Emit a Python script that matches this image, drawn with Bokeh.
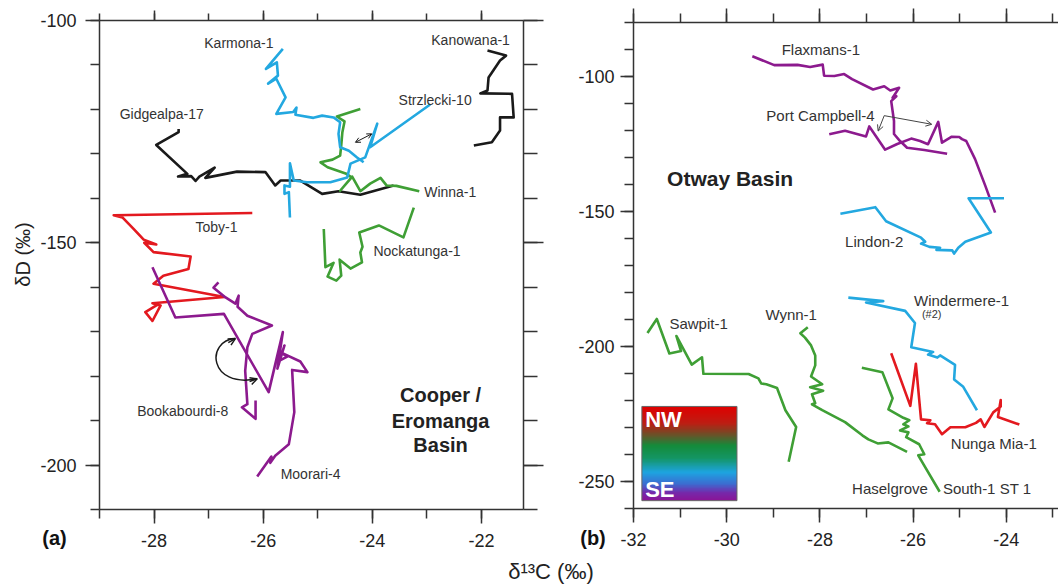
import numpy as np
from bokeh.plotting import figure
from bokeh.models import (Range1d, LinearAxis, SingleIntervalTicker, Label, Arrow, GridBox,
                          OpenHead, ColumnDataSource, PrintfTickFormatter)
from bokeh.embed import file_html
from bokeh.resources import INLINE
from bokeh.core.properties import value

FONT = "Liberation Sans"

# ---------------- Panel (a): Cooper / Eromanga Basin ----------------
karmona_x = [-25.64, -25.95, -25.75, -25.73, -25.91, -25.76, -25.59, -25.76, -25.45, -25.39,
             -25.41, -25.08, -24.92, -24.71, -24.59, -24.62, -24.59, -24.43, -24.28, -24.16]
karmona_y = [-106.4, -110.9, -109.4, -112.4, -114.2, -113.1, -117.3, -121.0, -120.6, -119.6,
             -121.2, -121.9, -121.4, -121.8, -122.9, -125.5, -128.5, -129.3, -130.8, -131.9]
strz_x = [-22.94, -24.04, -23.91, -24.13, -24.40, -24.46, -24.77, -25.20, -25.44, -25.51,
          -25.51, -25.61, -25.61, -25.53, -25.51]
strz_y = [-118.9, -128.5, -123.2, -130.8, -132.2, -135.3, -136.4, -136.4, -136.0, -132.1,
          -137.4, -137.1, -139.0, -138.6, -144.3]
gidg_x = [-27.55, -27.55, -27.96, -27.39, -27.56, -27.32, -27.24, -27.17, -26.89, -27.06,
          -26.48, -25.96, -25.78, -25.68, -25.32, -24.92, -24.62, -24.22, -23.61]
gidg_y = [-124.4, -125.1, -128.0, -134.5, -135.1, -135.0, -136.1, -135.1, -133.1, -135.4,
          -134.0, -134.1, -137.1, -136.0, -136.0, -139.0, -138.4, -139.2, -137.1]
kan_x = [-21.89, -21.55, -21.66, -21.87, -21.89, -22.02, -21.44, -21.41, -21.66, -21.66, -21.81, -22.14]
kan_y = [-106.75, -107.9, -109.0, -112.8, -115.75, -116.4, -116.5, -121.8, -121.8, -124.75, -127.4, -128.1]
winna_x = [-24.22, -24.65, -24.51, -24.55, -24.57, -24.59, -24.73, -24.95, -24.82, -24.49,
           -24.38, -24.59, -24.37, -24.22, -24.04, -23.85, -23.74, -23.56, -23.14]
winna_y = [-119.9, -121.6, -122.7, -125.2, -128.1, -130.4, -131.3, -131.9, -133.0, -134.4,
           -135.3, -138.3, -135.1, -138.4, -136.7, -135.4, -137.1, -137.2, -138.4]
nock_x = [-24.89, -24.86, -24.71, -24.82, -24.66, -24.57, -24.60, -24.40, -24.19, -24.22,
          -24.18, -24.24, -23.88, -23.43, -23.24]
nock_y = [-146.9, -155.5, -154.5, -157.6, -158.5, -157.4, -153.8, -155.8, -154.4, -152.2,
          -150.9, -147.7, -146.1, -148.8, -142.1]
toby_x = [-26.20, -28.74, -28.58, -28.38, -28.19, -27.96, -28.18, -28.01, -27.33, -27.37,
          -27.83, -28.01, -26.71, -28.03, -27.88, -28.03, -28.16, -27.92]
toby_y = [-143.3, -143.8, -144.3, -146.8, -149.3, -150.4, -150.0, -152.1, -153.1, -155.9,
          -157.4, -159.2, -162.2, -163.6, -164.1, -167.6, -165.6, -163.8]
moor_x = [-28.03, -27.61, -26.72, -25.90, -25.64, -25.74, -25.61, -25.70, -25.56, -25.67,
          -25.32, -25.19, -25.47, -25.43, -25.53, -25.78, -25.87, -25.85, -26.11]
moor_y = [-155.5, -166.8, -166.0, -183.6, -170.1, -178.3, -173.1, -176.5, -175.6, -174.7,
          -176.7, -179.1, -178.6, -188.1, -195.3, -197.9, -199.5, -198.1, -202.6]
book_x = [-26.82, -26.91, -26.69, -26.51, -26.45, -26.47, -26.29, -25.84, -26.20, -26.29,
          -26.33, -26.29, -26.39, -26.14, -26.14]
book_y = [-158.9, -160.1, -162.3, -163.7, -161.9, -164.4, -166.4, -168.6, -170.5, -173.5,
          -178.8, -186.3, -187.0, -189.6, -185.5]

# ---------------- Panel (b): Otway Basin ----------------
flax_x = [-29.45, -28.98, -28.48, -28.21, -27.94, -27.91, -27.69, -27.48, -27.31, -26.86, -26.62,
          -26.49, -26.30, -26.44, -26.36, -26.47, -26.41, -26.41, -26.28, -26.13, -25.76, -25.27]
flax_y = [-92.5, -95.8, -95.7, -96.5, -95.6, -99.7, -99.8, -99.1, -101.0, -104.8, -103.6,
          -105.2, -104.2, -107.9, -107.3, -109.1, -116.5, -121.3, -123.9, -126.4, -127.2, -128.6]
portc_x = [-27.80, -27.46, -27.01, -26.94, -26.60, -26.34, -26.04, -25.85, -25.68, -25.46,
           -25.38, -25.17, -25.01, -24.95, -24.86, -24.67, -24.45, -24.24]
portc_y = [-121.4, -120.1, -122.2, -118.5, -127.1, -125.0, -123.0, -123.9, -125.1, -116.8,
           -124.5, -122.3, -122.4, -123.2, -123.9, -130.6, -140.5, -150.4]
lind_x = [-27.56, -26.81, -26.58, -25.83, -25.74, -25.83, -25.65, -25.42, -25.50, -25.16,
          -25.12, -25.03, -24.88, -24.33, -24.81, -24.05]
lind_y = [-150.8, -148.4, -153.6, -159.7, -161.2, -161.9, -163.1, -163.4, -164.2, -164.4,
          -165.6, -163.4, -161.2, -157.8, -145.1, -145.1]
wind_x = [-27.39, -26.64, -27.01, -26.17, -25.96, -26.04, -25.57, -25.68, -25.48, -25.42,
          -25.10, -25.12, -24.93, -24.63]
wind_y = [-181.9, -183.2, -183.7, -186.8, -191.3, -200.3, -202.0, -203.0, -204.1, -203.3,
          -206.8, -212.2, -214.8, -223.6]
nunga_x = [-26.47, -26.06, -25.94, -25.83, -25.63, -25.70, -25.53, -25.38, -25.20, -24.88,
           -24.65, -24.55, -24.47, -24.28, -24.12, -24.12, -24.18, -23.72]
nunga_y = [-202.5, -222.0, -206.4, -227.0, -227.3, -228.4, -228.8, -232.5, -229.9, -229.9,
           -228.3, -227.0, -229.8, -224.4, -222.2, -219.8, -226.1, -228.9]
sawp_x = [-31.70, -31.50, -31.23, -30.98, -31.08, -30.75, -30.53, -30.50, -29.53, -29.32,
          -29.26, -29.15, -28.92, -28.74, -28.51, -28.67]
sawp_y = [-195.0, -189.8, -202.6, -201.7, -196.1, -206.7, -204.0, -210.1, -210.2, -211.8,
          -213.7, -214.0, -215.4, -223.6, -229.8, -242.7]
wynn_x = [-28.26, -28.42, -28.32, -28.19, -28.10, -28.10, -28.19, -27.95, -28.21, -27.93,
          -28.17, -28.10, -28.17, -27.95, -27.46, -27.09, -26.96, -26.76, -26.53, -26.13]
wynn_y = [-192.9, -195.1, -196.7, -199.6, -203.3, -207.0, -211.1, -214.0, -215.1, -216.4,
          -217.7, -221.0, -221.4, -223.6, -228.0, -232.9, -234.4, -235.9, -235.5, -239.0]
hasel_x = [-27.10, -26.66, -26.44, -26.53, -26.21, -26.08, -26.21, -26.10, -26.28, -26.10,
           -26.15, -25.87, -25.76, -25.89, -25.43]
hasel_y = [-207.9, -209.5, -219.2, -223.3, -226.4, -227.3, -228.8, -229.6, -231.1, -231.8,
           -233.6, -236.2, -239.9, -240.3, -253.8]

# labels
labels_a = ["Karmona-1", "Kanowana-1", "Gidgealpa-17", "Strzlecki-10", "Winna-1", "Toby-1",
            "Nockatunga-1", "Bookabourdi-8", "Moorari-4"]
labels_a_x = [-27.08, -22.92, -28.63, -23.52, -23.05, -27.24, -23.98, -28.31, -25.68]
labels_a_y = [-105.1, -104.3, -121.0, -117.9, -138.5, -146.4, -151.9, -187.8, -202.0]
labels_b = ["Flaxmans-1", "Port Campbell-4", "Lindon-2", "Windermere-1", "Sawpit-1", "Wynn-1",
            "Nunga Mia-1", "Haselgrove", "South-1 ST 1"]
labels_b_x = [-28.82, -29.15, -27.46, -25.98, -31.23, -29.17, -25.19, -27.31, -25.36]
labels_b_y = [-89.9, -114.5, -161.2, -183.0, -191.5, -188.2, -235.8, -252.5, -252.5]

RED = "#e3191f"
PURPLE = "#8c1a8e"
BLUE = "#23a8e0"
GREEN = "#3f9f35"
BLACK = "#1a1a1a"
AXC = "#333333"
TXT = "#333333"


def make_fig(w, h, xr, yr, bl, br, bt, bb):
    p = figure(width=w, height=h, x_range=Range1d(*xr), y_range=Range1d(*yr),
               output_backend="svg", toolbar_location=None,
               min_border_left=bl, min_border_right=br, min_border_top=bt, min_border_bottom=bb)
    p.frame_align = False
    p.xgrid.visible = False
    p.ygrid.visible = False
    p.outline_line_color = None
    p.background_fill_color = "white"
    p.border_fill_color = "white"
    return p


def style_axis(ax, ticker, labels, tick_out, minor_out, standoff=6):
    ax.ticker = ticker
    ax.formatter = PrintfTickFormatter(format="%d")
    ax.major_tick_out = tick_out
    ax.major_tick_in = 0
    ax.minor_tick_out = minor_out
    ax.minor_tick_in = 0
    ax.axis_line_color = AXC
    ax.axis_line_width = 1.5
    ax.major_tick_line_color = AXC
    ax.major_tick_line_width = 1.5
    ax.minor_tick_line_color = AXC
    ax.minor_tick_line_width = 1.5
    if labels:
        ax.major_label_text_font = FONT
        ax.major_label_text_font_size = "18px"
        ax.major_label_text_color = "#222222"
        ax.major_label_standoff = standoff
    else:
        ax.major_label_text_font_size = "0px"
        ax.major_label_text_color = None
        ax.major_label_standoff = 0


def xt():
    return SingleIntervalTicker(interval=2, num_minor_ticks=2)


def yt():
    return SingleIntervalTicker(interval=50, num_minor_ticks=5)


def bare_fig(w, h, xr, yr):
    f = figure(width=w, height=h, x_range=Range1d(*xr), y_range=Range1d(*yr),
               output_backend="svg", toolbar_location=None, min_border=0,
               x_axis_location=None, y_axis_location=None)
    f.frame_align = False
    f.xgrid.visible = False
    f.ygrid.visible = False
    f.outline_line_color = None
    return f


H = 556
# ---- panel (a)
p1 = make_fig(544, H, (-29, -21.23), (-210, -100), 99, 21, 20, 47)
style_axis(p1.xaxis[0], xt(), True, 14, 9, 10)
style_axis(p1.yaxis[0], yt(), True, 14, 9, 9)
top1 = LinearAxis()
right1 = LinearAxis()
p1.add_layout(top1, "above")
p1.add_layout(right1, "right")
style_axis(top1, xt(), False, 10, 7)
style_axis(right1, yt(), False, 20, 14)

LW = 2.6
for xs, ys, c in [(gidg_x, gidg_y, BLACK), (kan_x, kan_y, BLACK),
                  (winna_x, winna_y, GREEN), (nock_x, nock_y, GREEN),
                  (karmona_x, karmona_y, BLUE), (strz_x, strz_y, BLUE),
                  (toby_x, toby_y, RED), (moor_x, moor_y, PURPLE), (book_x, book_y, PURPLE)]:
    p1.line(xs, ys, line_color=c, line_width=LW, line_join="round")

src_a = ColumnDataSource(dict(x=labels_a_x, y=labels_a_y, t=labels_a))
p1.text(x="x", y="y", text="t", source=src_a, text_font=value(FONT), text_font_size="14px",
        text_color=TXT, text_baseline="middle", text_align="left")
for i, s in enumerate(["Cooper /", "Eromanga", "Basin"]):
    p1.add_layout(Label(x=-22.75, y=[-184.2, -190.0, -195.6][i], text=s, text_font=FONT,
                        text_font_size="20px", text_font_style="bold", text_color="#222222",
                        text_align="center", text_baseline="middle"))

# curved double arrow near Bookabourdi-8
p1.bezier(x0=[-26.51], y0=[-171.55], x1=[-26.11], y1=[-180.6], cx0=[-27.06], cy0=[-172.0],
          cx1=[-27.00], cy1=[-182.8], line_color=BLACK, line_width=1.5)
p1.add_layout(Arrow(x_start=-26.64, y_start=-172.45, x_end=-26.51, y_end=-171.55,
                    end=OpenHead(size=7, line_width=1.5, line_color=BLACK),
                    line_width=1.5, line_color=BLACK))
p1.add_layout(Arrow(x_start=-26.25, y_start=-181.2, x_end=-26.11, y_end=-180.6,
                    end=OpenHead(size=7, line_width=1.5, line_color=BLACK),
                    line_width=1.5, line_color=BLACK))
# small double arrow near Strzlecki-10
p1.add_layout(Arrow(x_start=-24.31, y_start=-127.4, x_end=-24.01, y_end=-125.5,
                    start=OpenHead(size=5, line_width=1, line_color=BLACK),
                    end=OpenHead(size=5, line_width=1, line_color=BLACK),
                    line_width=1, line_color=BLACK))

# ---- panel (b)
p2 = make_fig(514, H, (-32, -22.88), (-260, -80), 89, 0, 22, 48)
style_axis(p2.xaxis[0], xt(), True, 14, 9, 10)
style_axis(p2.yaxis[0], yt(), True, 13, 9, 6)
top2 = LinearAxis()
p2.add_layout(top2, "above")
style_axis(top2, xt(), False, 14, 9)

for xs, ys, c in [(flax_x, flax_y, PURPLE), (portc_x, portc_y, PURPLE),
                  (lind_x, lind_y, BLUE), (wind_x, wind_y, BLUE),
                  (sawp_x, sawp_y, GREEN), (wynn_x, wynn_y, GREEN), (hasel_x, hasel_y, GREEN),
                  (nunga_x, nunga_y, RED)]:
    p2.line(xs, ys, line_color=c, line_width=LW, line_join="round")

src_b = ColumnDataSource(dict(x=labels_b_x, y=labels_b_y, t=labels_b))
p2.text(x="x", y="y", text="t", source=src_b, text_font=value(FONT), text_font_size="15px",
        text_color=TXT, text_baseline="middle", text_align="left")
p2.text(x=[-25.81], y=[-188.1], text=["(#2)"], text_font=value(FONT), text_font_size="11px",
        text_color=TXT, text_baseline="middle", text_align="left")
p2.add_layout(Label(x=-31.28, y=-137.8, text="Otway Basin", text_font=FONT, text_font_size="21px",
                    text_font_style="bold", text_color="#222222", text_align="left",
                    text_baseline="middle"))
for xe, ye in [(-26.75, -120.2), (-25.60, -117.7)]:
    p2.add_layout(Arrow(x_start=-26.62, y_start=-114.5, x_end=xe, y_end=ye,
                        end=OpenHead(size=6, line_width=1, line_color="#444444"),
                        line_width=1, line_color="#444444"))

# NW-SE gradient key (image, bottom row first)
stops = [0.0, 0.18, 0.3, 0.42, 0.55, 0.7, 0.82, 0.92, 1.0]
stop_cols = [(225, 0, 0), (190, 30, 20), (110, 80, 40), (20, 140, 60), (20, 150, 100),
             (30, 165, 225), (60, 110, 210), (120, 40, 170), (140, 20, 150)]
n = 120
t = 1.0 - (np.arange(n) + 0.5) / n
rr = np.interp(t, stops, [c[0] for c in stop_cols]).astype(np.uint32)
gg = np.interp(t, stops, [c[1] for c in stop_cols]).astype(np.uint32)
bb = np.interp(t, stops, [c[2] for c in stop_cols]).astype(np.uint32)
rgba = (255 << 24) | (bb << 16) | (gg << 8) | rr
img = rgba.reshape(n, 1).astype(np.uint32)
bx0, bx1, by0, by1 = -31.82, -29.78, -222.2, -257.1
p2.image_rgba(image=[img], x=bx0, y=by1, dw=bx1 - bx0, dh=by0 - by1)
p2.quad(left=[bx0], right=[bx1], top=[by0], bottom=[by1], fill_color=None,
        line_color="#666666", line_width=1)
p2.add_layout(Label(x=-31.75, y=-227.0, text="NW", text_font=FONT, text_font_size="22px",
                    text_font_style="bold", text_color="white", text_align="left",
                    text_baseline="middle"))
p2.add_layout(Label(x=-31.75, y=-252.8, text="SE", text_font=FONT, text_font_size="22px",
                    text_font_style="bold", text_color="white", text_align="left",
                    text_baseline="middle"))

# ---- shared x label strip (page pixel coordinates, y measured upward inside the strip)
p3 = bare_fig(1058, 28, (0, 1058), (0, 28))
p3.text(x=[550.5], y=[13], text=["δ¹³C (‰)"], text_font=value(FONT), text_font_size="22px",
        text_color="#222222", text_align="center", text_baseline="middle")

# ---- transparent overlay (page pixel coordinates, y downward) for panel letters and y title
ov = bare_fig(1058, H, (0, 1058), (H, 0))
ov.background_fill_color = None
ov.border_fill_color = None
ov.text(x=[54, 592.5], y=[537, 537], text=["(a)", "(b)"], text_font=value(FONT),
        text_font_size="20px", text_font_style="bold", text_color="#111111",
        text_align="center", text_baseline="middle")
ov.text(x=[22], y=[254], text=["δD (‰)"], angle=np.pi / 2, text_font=value(FONT),
        text_font_size="20px", text_color="#222222", text_align="center",
        text_baseline="middle")

layout = GridBox(children=[(p1, 0, 0), (p2, 0, 1), (p3, 1, 0, 1, 2), (ov, 0, 0, 1, 2)])
open("out.html", "w").write(file_html(layout, INLINE))
